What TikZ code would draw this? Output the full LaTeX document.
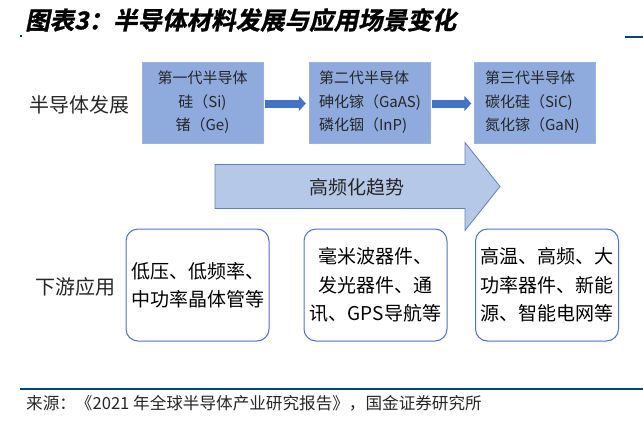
\documentclass[tikz,border=0pt]{standalone}
\usepackage{fontspec}
\setmainfont{Noto Sans CJK SC}
\newfontfamily\titlefont{Noto Sans CJK SC Bold}[FakeSlant=0.2,FakeBold=1.2]
\usetikzlibrary{arrows.meta}

\definecolor{genfill}{RGB}{143,170,220}
\definecolor{arrowfill}{RGB}{68,114,196}
\definecolor{arrowline}{RGB}{47,82,143}
\definecolor{trendfill}{RGB}{182,200,232}
\definecolor{trendline}{RGB}{98,128,190}
\definecolor{appline}{RGB}{80,115,185}
\definecolor{rulecol}{RGB}{0,72,110}
\definecolor{txt}{RGB}{38,38,38}

\tikzset{
  genbox/.style={fill=genfill, draw=genfill!90!white, minimum width=121pt, minimum height=81pt,
    inner sep=0pt, text=txt, font=\fontsize{15}{23.5}\selectfont},
  appbox/.style={draw=appline, line width=1pt, rounded corners=12pt, fill=white,
    minimum width=143pt, minimum height=112pt, inner sep=0pt, align=center,
    font=\fontsize{19}{28.5}\selectfont},
  genarrow/.style={line width=8pt, draw=arrowfill, -{Triangle[length=7pt,width=15pt]},
    shorten <=2pt, shorten >=3pt},
  sidelabel/.style={font=\fontsize{20}{24}\selectfont, text=txt}
}

\begin{document}
\begin{tikzpicture}[x=1pt,y=-1pt]
\useasboundingbox (0,0) rectangle (643,442);

%otsikko
\node[anchor=west, inner sep=0pt, font=\titlefont\fontsize{24.5}{26}\selectfont] (title) at (25,20) {图表3：半导体材料发展与应用场景变化};
\fill[rulecol] (20,35) rectangle (22,37);
\draw[rulecol, line width=2pt] (625,37) -- (643,37);

%sukupolvet
\node[sidelabel] (devlabel) at (80,105) {半导体发展};
\node[genbox, align=center] (gen1) at (202.5,102.5) {第一代半导体\\硅（Si)\\锗（Ge)};
\node[genbox, align=left] (gen2) at (369.5,102.5) {\makebox[101pt][l]{\parbox{101pt}{\raggedright 第二代半导体\\砷化镓（GaAS)\\磷化铟（InP)}}};
\node[genbox, align=left] (gen3) at (535,102.5) {\makebox[100pt][l]{\parbox{100pt}{\raggedright 第三代半导体\\碳化硅（SiC)\\氮化镓（GaN)}}};
\draw[genarrow] (gen1.east) ++(0,1) -- ([yshift=-1pt]gen2.west);
\draw[genarrow] (gen2.east) ++(0,1) -- ([yshift=-1pt]gen3.west);

%trendinuoli
\draw[fill=trendfill, draw=trendline, line width=0.8pt]
  (215,164.5) -- (465,164.5) -- (465,142.5) -- (500,186.5) -- (465,230.5) -- (465,208.5) -- (215,208.5) -- cycle;
\node[font=\fontsize{19}{22}\selectfont, text=txt] (trend) at (357,187) {高频化趋势};

%sovellukset
\node[sidelabel] (applabel) at (75,287) {下游应用};
\node[appbox] (app1) at (197.5,285) {低压、低频率、\\中功率晶体管等};
\node[appbox] (app2) at (375.5,285) {毫米波器件、\\发光器件、通\\讯、GPS导航等};
\node[appbox] (app3) at (547,285) {高温、高频、大\\功率器件、新能\\源、智能电网等};

%lähde
\draw[rulecol, line width=2pt] (20,389) -- (643,389);
\node[anchor=west, inner sep=0pt, text=txt, font=\fontsize{16.6}{18}\selectfont] (source) at (26,403) {来源：《2021 年全球半导体产业研究报告》，国金证券研究所};

\end{tikzpicture}
\end{document}
